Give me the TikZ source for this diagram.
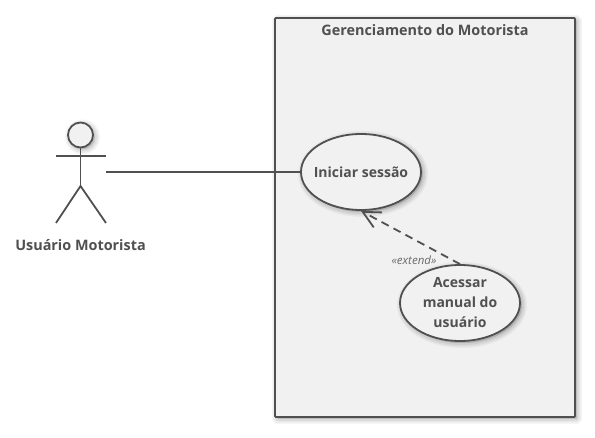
\documentclass[tikz,border=0pt]{standalone}
\usepackage{fontspec}
\setmainfont{Open Sans}
\usetikzlibrary{arrows.meta,shapes.geometric}
\definecolor{ink}{HTML}{505050}
\definecolor{pale}{HTML}{F1F1F1}
\tikzset{
  softshadow/.style={
    preaction={draw=black,fill=black,opacity=.04,line width=10pt,transform canvas={shift={(2pt,-2pt)}}},
    preaction={draw=black,fill=black,opacity=.05,line width=7pt,transform canvas={shift={(2pt,-2pt)}}},
    preaction={draw=black,fill=black,opacity=.06,line width=4pt,transform canvas={shift={(2pt,-2pt)}}}},
  linework/.style={draw=ink,line width=1.8pt},
  usecase/.style={ellipse,linework,fill=pale,softshadow,minimum width=120pt,minimum height=76pt,inner xsep=-15pt,inner ysep=0pt,align=center,text=ink,font=\bfseries\fontsize{14}{20}\selectfont},
  sysbox/.style={rectangle,rounded corners=1pt,linework,fill=pale,softshadow,minimum width=300pt,minimum height=399pt,inner sep=0pt},
  title/.style={text=ink,inner sep=0pt,font=\bfseries\fontsize{14.4}{17}\selectfont},
  stereo/.style={text=ink!85,inner sep=0pt,font=\itshape\fontsize{11.5}{13}\selectfont},
  dep/.style={draw=ink,line width=1.8pt,dash pattern=on 8pt off 5.5pt,-{Straight Barb[length=17pt,width=17pt,line width=1.8pt]}},
}
\begin{document}
\begin{tikzpicture}[x=1pt,y=-1pt]
\useasboundingbox (0,0) rectangle (595,438);
\node[sysbox] (sys) at (425,217.5) {};
\node[title] (systitle) at (425,30) {Gerenciamento do Motorista};
\node[usecase] (init) at (361,172) {Iniciar sessão};
\node[usecase] (manual) at (460,303) {Acessar\\manual do\\usuário};
\node[stereo] (ext) at (414,260.5) {«extend»};
\draw[dep] (manual.north) -- (init.south);
% actor
\node[circle,linework,fill=pale,softshadow,minimum size=25pt,inner sep=0pt] (head) at (80.5,135) {};
\coordinate (armL) at (56,156);
\coordinate (armR) at (106,156);
\coordinate (hip) at (80.5,186);
\coordinate (footL) at (56,223);
\coordinate (footR) at (106,223);
\coordinate (hand) at (106,172);
\draw[linework] (head.south) -- (hip);
\draw[linework] (armL) -- (armR);
\draw[linework] (footL) -- (hip) -- (footR);
\node[title] (actor) at (80.5,245) {Usuário Motorista};
\draw[linework] (hand) -- (init.west);
\end{tikzpicture}
\end{document}
